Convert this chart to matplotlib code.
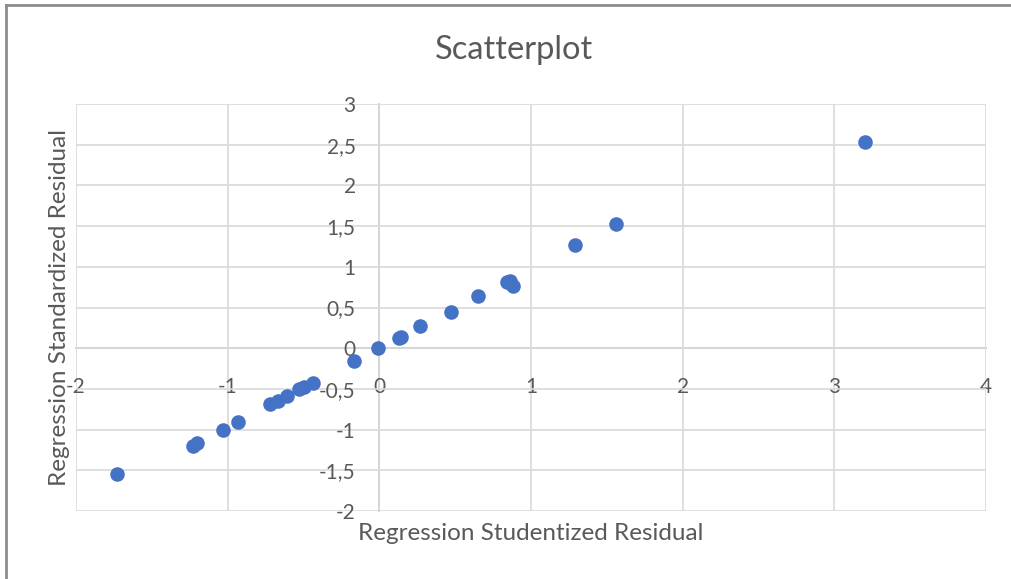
import matplotlib.pyplot as plt
from matplotlib.lines import Line2D

# Regression residuals
studentized = [-1.73, -1.23, -1.20, -1.03, -0.93, -0.72, -0.67, -0.61, -0.53, -0.50,
               -0.44, -0.17, -0.01, 0.13, 0.14, 0.27, 0.47, 0.65, 0.84, 0.86,
               0.88, 1.29, 1.56, 3.20]
standardized = [-1.54, -1.20, -1.16, -1.00, -0.91, -0.69, -0.65, -0.59, -0.50, -0.48,
                -0.43, -0.16, 0.00, 0.12, 0.14, 0.27, 0.44, 0.64, 0.81, 0.82,
                0.76, 1.27, 1.53, 2.53]

x_ticks = [-2, -1, 0, 1, 2, 3, 4]
x_tick_labels = ['-2', '-1', '0', '1', '2', '3', '4']
y_ticks = [-2, -1.5, -1, -0.5, 0, 0.5, 1, 1.5, 2, 2.5, 3]
y_tick_labels = ['-2', '-1,5', '-1', '-0,5', '0', '0,5', '1', '1,5', '2', '2,5', '3']

plt.rcParams['font.family'] = ['Lato', 'DejaVu Sans']
txt = '#595959'
W, H = 1011, 579

fig = plt.figure(figsize=(W / 100, H / 100), dpi=100)
ax = fig.add_axes([76 / W, 1 - 511 / H, 910 / W, 407 / H])

ax.scatter(studentized, standardized, s=110, color='#4472C4', zorder=3, linewidths=0)

ax.set_xlim(-2, 4)
ax.set_ylim(-2, 3)
ax.set_xticks(x_ticks)
ax.set_xticklabels(x_tick_labels)
ax.set_yticks(y_ticks)
ax.set_yticklabels(y_tick_labels)
ax.grid(True, color='#d9d9d9', linewidth=1.2, zorder=0)

for side in ['top', 'right']:
    ax.spines[side].set_visible(False)
ax.spines['left'].set_position(('data', 0))
ax.spines['bottom'].set_position(('data', 0))
ax.spines['left'].set_color('#bfbfbf')
ax.spines['bottom'].set_color('#bfbfbf')
ax.spines['left'].set_linewidth(1.2)
ax.spines['bottom'].set_linewidth(1.2)
ax.spines['left'].set_zorder(1)
ax.spines['bottom'].set_zorder(1)

ax.tick_params(axis='x', length=0, pad=21, labelsize=15, labelcolor=txt)
ax.tick_params(axis='y', length=0, pad=17, labelsize=15, labelcolor=txt)

fig.text(514 / W, 1 - 50 / H, 'Scatterplot', ha='center', va='center',
         fontsize=23.5, color=txt)
fig.text(531 / W, 1 - 533 / H, 'Regression Studentized Residual', ha='center',
         va='center', fontsize=17.5, color=txt)
fig.text(60 / W, 1 - 307 / H, 'Regression Standardized Residual', ha='center',
         va='center', rotation=90, fontsize=17.5, color=txt)

# chart border (top and left edges visible)
fig.add_artist(Line2D([6 / W, 6 / W], [0, 1 - 5 / H], color='#8c8c8c', linewidth=2))
fig.add_artist(Line2D([6 / W, 1], [1 - 5 / H, 1 - 5 / H], color='#8c8c8c', linewidth=2))

fig.savefig('out.png', dpi=100)
